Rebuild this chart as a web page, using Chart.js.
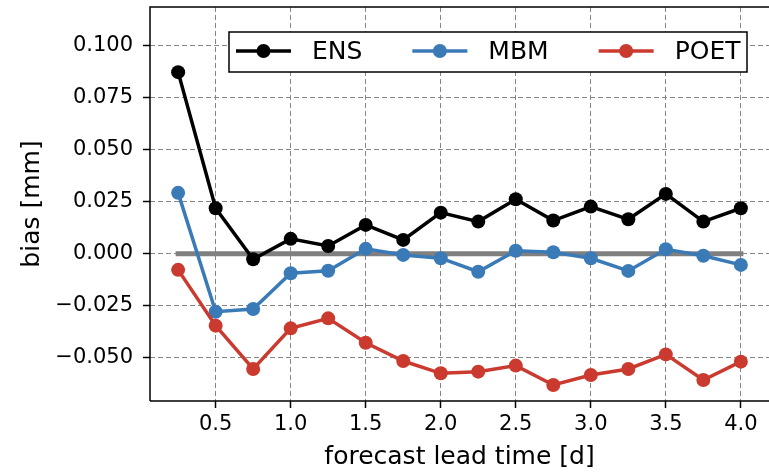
<!DOCTYPE html>
<html>
<head>
<meta charset="utf-8">
<script src="https://cdn.jsdelivr.net/npm/chart.js@4.4.1/dist/chart.umd.min.js"></script>
<style>
  html, body { margin: 0; padding: 0; background: #ffffff; }
  #wrap { width: 769px; height: 472px; position: relative; }
</style>
</head>
<body>
<div id="wrap"><canvas id="c" width="769" height="472"></canvas></div>
<script>
// ---- data ----
const leadTimes = [0.25, 0.5, 0.75, 1.0, 1.25, 1.5, 1.75, 2.0, 2.25, 2.5, 2.75, 3.0, 3.25, 3.5, 3.75, 4.0];
const ensBias  = [0.0872, 0.0218, -0.0027, 0.0071, 0.0037, 0.0138, 0.0066, 0.0197, 0.0154, 0.0261, 0.0159, 0.0226, 0.0165, 0.0287, 0.0154, 0.0218];
const mbmBias  = [0.0292, -0.0279, -0.0266, -0.0094, -0.0082, 0.0023, -0.0006, -0.0022, -0.0087, 0.0014, 0.0007, -0.0022, -0.0083, 0.0021, -0.0010, -0.0054];
const poetBias = [-0.0078, -0.0346, -0.0554, -0.0359, -0.0311, -0.0428, -0.0516, -0.0575, -0.0567, -0.0538, -0.0631, -0.0583, -0.0554, -0.0484, -0.0607, -0.0519];
const zeroLineX = [0.25, 4.0];
const zeroLineY = [0, 0];
const seriesNames = ['ENS', 'MBM', 'POET'];
const xTickValues = [0.5, 1.0, 1.5, 2.0, 2.5, 3.0, 3.5, 4.0];
const xTickLabels = ['0.5', '1.0', '1.5', '2.0', '2.5', '3.0', '3.5', '4.0'];
const yTickValues = [-0.05, -0.025, 0, 0.025, 0.05, 0.075, 0.1];
const yTickLabels = ['\u22120.050', '\u22120.025', '0.000', '0.025', '0.050', '0.075', '0.100'];
const xTitle = 'forecast lead time [d]';
const yTitle = 'bias [mm]';

// ---- styles ----
const FONT = "'DejaVu Sans', sans-serif";
const colors = ['#000000', '#3a7ab7', '#cb3a2f'];
const seriesValues = [ensBias, mbmBias, poetBias];

const toPts = (xs, ys) => xs.map((x, i) => ({ x: x, y: ys[i] }));

const datasets = seriesValues.map((vals, i) => ({
  label: seriesNames[i],
  data: toPts(leadTimes, vals),
  borderColor: colors[i],
  backgroundColor: colors[i],
  borderWidth: 3.5,
  pointRadius: 7,
  pointHoverRadius: 7,
  pointBorderWidth: 0,
  pointBackgroundColor: colors[i],
  tension: 0,
  order: 3 - i,
  clip: false
}));
datasets.push({
  label: '',
  data: toPts(zeroLineX, zeroLineY),
  borderColor: '#808080',
  borderWidth: 5,
  borderCapStyle: 'square',
  pointRadius: 0,
  order: 10,
  isZero: true
});

const frameAndLegend = {
  id: 'frameAndLegend',
  afterDraw(chart) {
    const ctx = chart.ctx;
    const a = chart.chartArea;
    ctx.save();
    // spines
    ctx.strokeStyle = '#000';
    ctx.lineWidth = 1.5;
    ctx.beginPath();
    ctx.moveTo(a.left, a.bottom);
    ctx.lineTo(a.left, a.top);
    ctx.lineTo(a.right + 2, a.top);
    ctx.moveTo(a.left, a.bottom);
    ctx.lineTo(a.right + 2, a.bottom);
    ctx.stroke();

    // legend
    const bx = a.left + 79, by = a.top + 25, bw = 518, bh = 40;
    ctx.fillStyle = '#fff';
    ctx.fillRect(bx, by, bw, bh);
    ctx.lineWidth = 1.5;
    ctx.strokeStyle = '#000';
    ctx.strokeRect(bx, by, bw, bh);
    ctx.font = '25px ' + FONT;
    ctx.textBaseline = 'middle';
    ctx.textAlign = 'left';
    let x = bx + 7;
    const cy = by + bh / 2 - 1;
    chart.data.datasets.forEach(ds => {
      if (ds.isZero) return;
      ctx.strokeStyle = ds.borderColor;
      ctx.lineWidth = 3.5;
      ctx.beginPath();
      ctx.moveTo(x, cy);
      ctx.lineTo(x + 55, cy);
      ctx.stroke();
      ctx.fillStyle = ds.borderColor;
      ctx.beginPath();
      ctx.arc(x + 27.5, cy, 7, 0, Math.PI * 2);
      ctx.fill();
      ctx.fillStyle = '#000';
      const tx = x + 76;
      ctx.fillText(ds.label, tx, cy + 1);
      x = tx + ctx.measureText(ds.label).width + 50;
    });
    ctx.restore();
  }
};

new Chart(document.getElementById('c'), {
  type: 'line',
  data: { datasets: datasets },
  options: {
    responsive: false,
    animation: false,
    devicePixelRatio: 1,
    layout: { autoPadding: false, padding: { top: 7, left: 0, right: 0, bottom: 0 } },
    plugins: {
      legend: { display: false },
      tooltip: { enabled: false }
    },
    scales: {
      x: {
        type: 'linear',
        min: 0.0625,
        max: 4.1875,
        afterBuildTicks: s => { s.ticks = xTickValues.map(v => ({ value: v })); },
        afterFit: s => { s.height = 71; s.paddingLeft = 0; s.paddingRight = 0; },
        ticks: {
          callback: v => { const i = xTickValues.findIndex(t => Math.abs(t - v) < 1e-9); return i >= 0 ? xTickLabels[i] : ''; },
          font: { family: FONT, size: 21 },
          color: '#000',
          padding: 4,
          maxRotation: 0,
          autoSkip: false
        },
        grid: {
          color: '#858585',
          lineWidth: 1,
          tickLength: 7,
          tickColor: '#000',
          tickWidth: 1.5,
          tickBorderDash: [10, 0]
        },
        border: { display: false, dash: [5, 3] },
        title: {
          display: true,
          text: xTitle,
          font: { family: FONT, size: 25 },
          color: '#000',
          padding: { top: 0, bottom: 0 }
        }
      },
      y: {
        min: -0.0708,
        max: 0.1185,
        afterBuildTicks: s => { s.ticks = yTickValues.map(v => ({ value: v })); },
        afterFit: s => { s.width = 150; s.paddingTop = 0; s.paddingBottom = 0; },
        ticks: {
          callback: v => { const i = yTickValues.findIndex(t => Math.abs(t - v) < 1e-9); return i >= 0 ? yTickLabels[i] : ''; },
          font: { family: FONT, size: 21 },
          color: '#000',
          padding: 10,
          autoSkip: false
        },
        grid: {
          color: '#858585',
          lineWidth: 1,
          tickLength: 7,
          tickColor: '#000',
          tickWidth: 1.5,
          tickBorderDash: [10, 0]
        },
        border: { display: false, dash: [5, 3] },
        title: {
          display: true,
          text: yTitle,
          font: { family: FONT, size: 25 },
          color: '#000',
          padding: { top: 17, bottom: 0 }
        }
      }
    }
  },
  plugins: [frameAndLegend]
});
</script>
</body>
</html>
